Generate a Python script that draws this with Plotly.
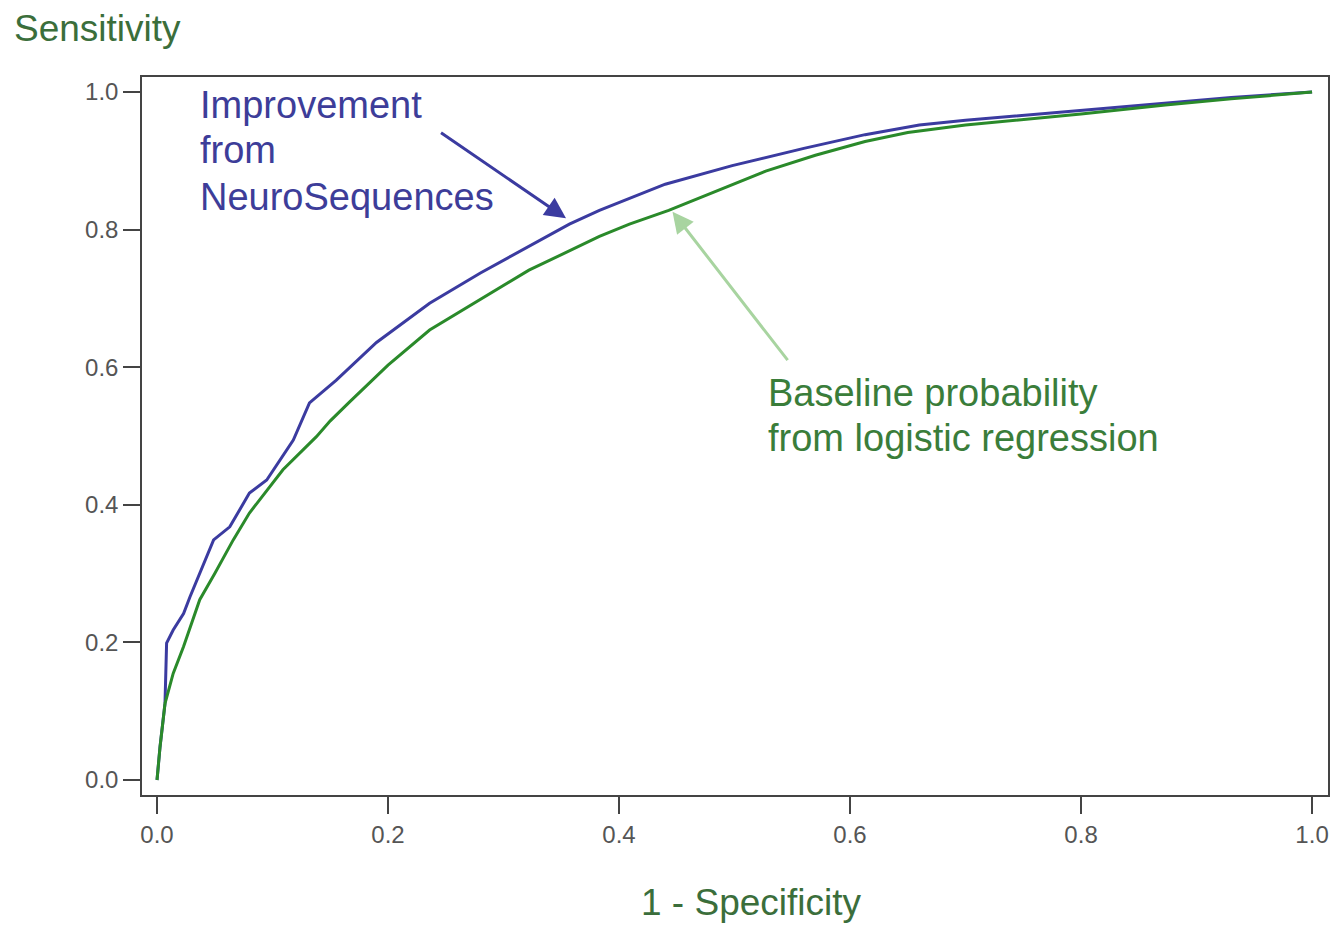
import plotly.graph_objects as go

# ROC curves
blue_fpr = [0, 0.0026, 0.0069, 0.0083, 0.014, 0.023, 0.0285, 0.036, 0.049, 0.063, 0.080, 0.095, 0.118,
            0.132, 0.155, 0.190, 0.236, 0.280, 0.322, 0.357, 0.383, 0.440, 0.498, 0.560, 0.613, 0.660,
            0.700, 0.750, 0.800, 0.873, 0.930, 1.0]
blue_tpr = [0, 0.048, 0.111, 0.199, 0.218, 0.242, 0.266, 0.296, 0.349, 0.368, 0.417, 0.436, 0.494,
            0.548, 0.581, 0.636, 0.693, 0.737, 0.776, 0.808, 0.828, 0.866, 0.893, 0.918, 0.938, 0.952,
            0.959, 0.966, 0.973, 0.984, 0.992, 1.0]

green_fpr = [0, 0.0026, 0.0069, 0.014, 0.023, 0.037, 0.050, 0.066, 0.080, 0.109, 0.138, 0.150, 0.167,
             0.200, 0.236, 0.280, 0.322, 0.383, 0.409, 0.443, 0.490, 0.527, 0.570, 0.613, 0.650, 0.700,
             0.800, 0.873, 0.930, 1.0]
green_tpr = [0, 0.048, 0.111, 0.155, 0.194, 0.262, 0.300, 0.349, 0.388, 0.451, 0.499, 0.522, 0.550,
             0.603, 0.654, 0.699, 0.741, 0.790, 0.808, 0.828, 0.860, 0.885, 0.908, 0.928, 0.941, 0.952,
             0.968, 0.981, 0.990, 1.0]

tick_vals = [0.0, 0.2, 0.4, 0.6, 0.8, 1.0]
tick_text = ["0.0", "0.2", "0.4", "0.6", "0.8", "1.0"]

blue_label = ["Improvement", "from", "NeuroSequences"]
green_label = ["Baseline probability", "from logistic regression"]

BLUE = "#3b3ba0"
GREEN = "#2a8a2a"
BLUE_TXT = "#3d3d99"
GREEN_TXT = "#3a7d3a"
TITLE_GREEN = "#3b6e3b"
FONT = "Liberation Sans, Arial, sans-serif"

fig = go.Figure()
fig.add_trace(go.Scatter(x=blue_fpr, y=blue_tpr, mode="lines",
                         line=dict(color=BLUE, width=3), showlegend=False))
fig.add_trace(go.Scatter(x=green_fpr, y=green_tpr, mode="lines",
                         line=dict(color=GREEN, width=3), showlegend=False))

axis_common = dict(showgrid=False, zeroline=False, showline=True, mirror=True,
                   linecolor="#444", linewidth=1.5, ticks="outside", ticklen=17, tickwidth=1.5,
                   tickcolor="#444", tickvals=tick_vals, ticktext=tick_text,
                   tickfont=dict(family=FONT, size=24, color="#555"))
xa = dict(axis_common, range=[-0.013, 1.0138])
ya = dict(axis_common, range=[-0.0218, 1.0218])

annotations = []
for txt, yv in zip(blue_label, [0.981, 0.916, 0.847]):
    annotations.append(dict(x=0.0354, y=yv, xref="x", yref="y", text=txt, showarrow=False,
                            xanchor="left", yanchor="middle",
                            font=dict(family=FONT, size=38, color=BLUE_TXT)))
for txt, yv in zip(green_label, [0.5625, 0.497]):
    annotations.append(dict(x=0.527, y=yv, xref="x", yref="y", text=txt, showarrow=False,
                            xanchor="left", yanchor="middle",
                            font=dict(family=FONT, size=38, color=GREEN_TXT)))
annotations.append(dict(x=0.3541, y=0.8164, ax=0.2446, ay=0.9423, xref="x", yref="y",
                        axref="x", ayref="y", text="", showarrow=True, arrowhead=2,
                        arrowsize=1.4, arrowwidth=3, arrowcolor=BLUE))
annotations.append(dict(x=0.4463, y=0.826, ax=0.547, ay=0.608, xref="x", yref="y",
                        axref="x", ayref="y", text="", showarrow=True, arrowhead=2,
                        arrowsize=1.4, arrowwidth=3, arrowcolor="#a8d4a0"))
annotations.append(dict(x=-0.1094, y=1.068, xref="paper", yref="paper", text="Sensitivity",
                        showarrow=False, xanchor="left", yanchor="middle",
                        font=dict(family=FONT, size=37, color=TITLE_GREEN)))
annotations.append(dict(x=0.5135, y=-0.1504, xref="paper", yref="paper", text="1 - Specificity",
                        showarrow=False, xanchor="center", yanchor="middle",
                        font=dict(family=FONT, size=37, color=TITLE_GREEN)))

fig.update_layout(width=1338, height=929, margin=dict(l=142, r=8, t=77, b=134),
                  paper_bgcolor="white", plot_bgcolor="white",
                  xaxis=xa, yaxis=ya, annotations=annotations, showlegend=False)

fig.write_html("out.html")
